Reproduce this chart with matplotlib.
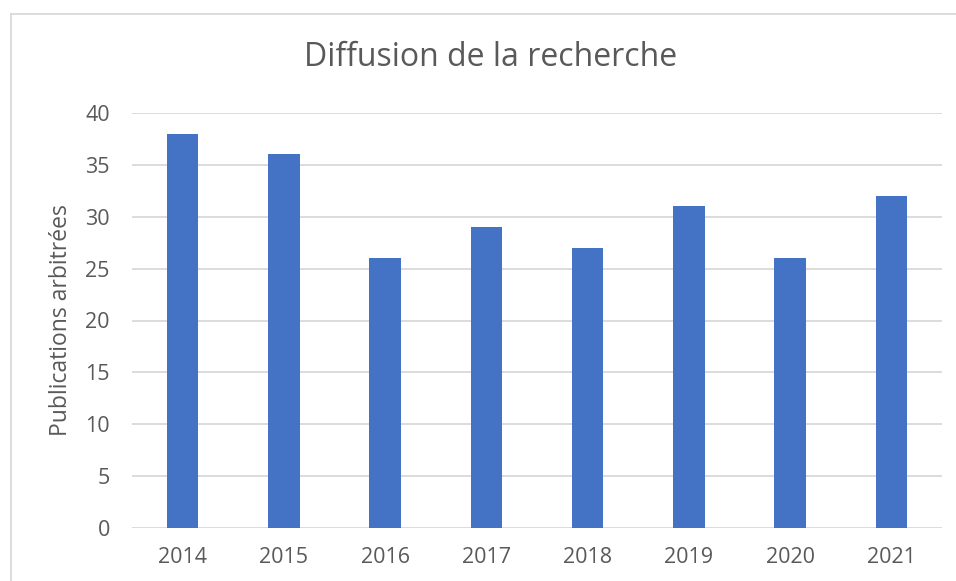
import matplotlib
matplotlib.use("Agg")
import matplotlib.pyplot as plt
from matplotlib.lines import Line2D

years = ["2014", "2015", "2016", "2017", "2018", "2019", "2020", "2021"]
publications = [38, 36, 26, 29, 27, 31, 26, 32]
yticks = [0, 5, 10, 15, 20, 25, 30, 35, 40]

plt.rcParams['font.family'] = ['Open Sans', 'DejaVu Sans']
txt = '#595959'
grid = '#D9D9D9'

fig = plt.figure(figsize=(9.56, 5.81), dpi=100)
ax = fig.add_axes([132/956, 1-528/581, 810/956, 415/581])
x = list(range(len(years)))
ax.bar(x, publications, width=0.31, color='#4472C4', zorder=3)
ax.set_xlim(-0.5, len(years)-0.5)
ax.set_ylim(0, 40)
ax.set_yticks(yticks)
ax.set_xticks(x)
ax.set_xticklabels(years)
ax.yaxis.grid(True, color=grid, linewidth=1.3, zorder=0)
for s in ax.spines.values():
    s.set_visible(False)
ax.tick_params(axis='both', length=0, colors=txt, labelsize=15.5)
ax.tick_params(axis='x', pad=14)
ax.tick_params(axis='y', pad=16)
ax.set_ylabel("Publications arbitrées", color=txt, fontsize=16.5, labelpad=9)
fig.text(491/956, 1-58/581, "Diffusion de la recherche", ha='center', va='center',
         color=txt, fontsize=23)

# chart area border (top and left visible)
fig.add_artist(Line2D([11/956, 1], [1-14/581, 1-14/581], color=grid, linewidth=1.3,
                      transform=fig.transFigure))
fig.add_artist(Line2D([11/956, 11/956], [0, 1-14/581], color=grid, linewidth=1.3,
                      transform=fig.transFigure))

fig.savefig("out.png", dpi=100)
